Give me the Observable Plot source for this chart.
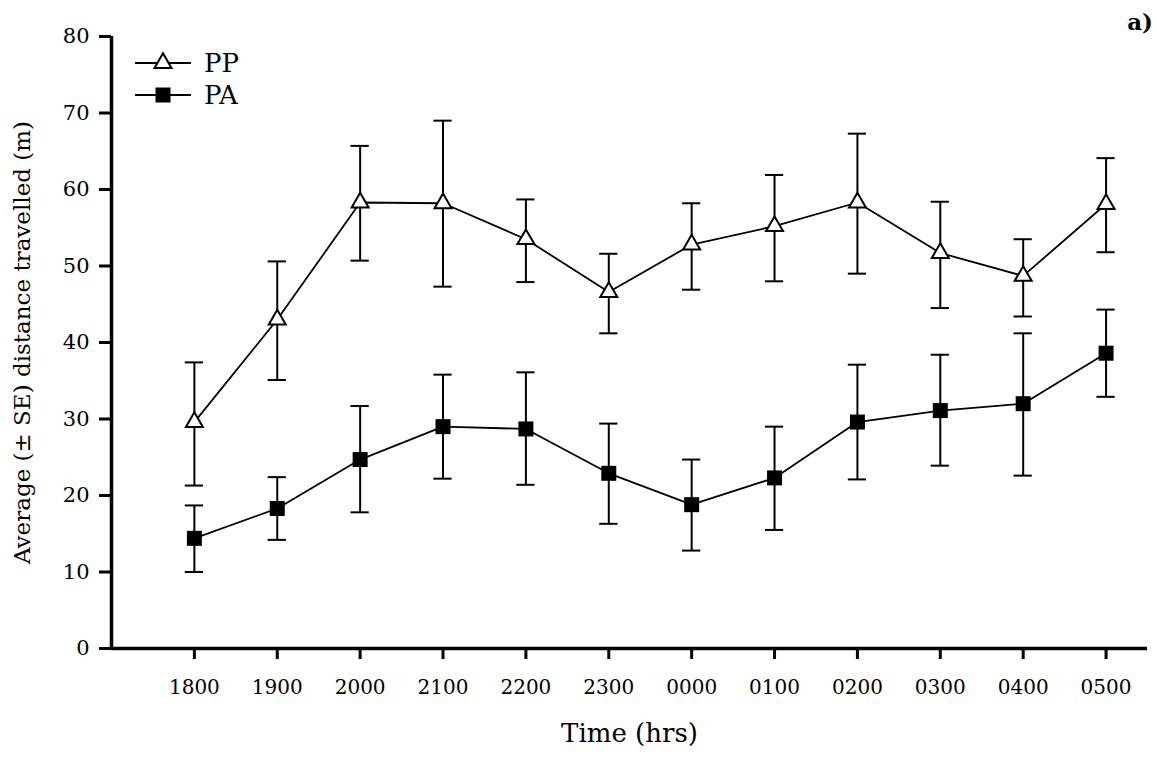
<!DOCTYPE html>
<html><head><meta charset="utf-8">
<script src="https://cdn.jsdelivr.net/npm/d3@7"></script>
<script src="https://cdn.jsdelivr.net/npm/@observablehq/plot@0.6"></script>
<style>
body{margin:0;background:#fff;}
#wrap{position:relative;width:1157px;height:758px;font-family:"DejaVu Serif",serif;}
#wrap svg{display:block;}
#legend{position:absolute;left:0;top:0;}
#tag{position:absolute;right:4px;top:8px;font-weight:bold;font-size:23px;font-family:"DejaVu Serif",serif;}
</style></head><body><div id="wrap"></div>
<script>
// ---- data ----
const hours = ["1800","1900","2000","2100","2200","2300","0000","0100","0200","0300","0400","0500"];
const seriesNames = ["PP","PA"];
const ppMean  = [29.6, 43.0, 58.3, 58.2, 53.5, 46.6, 52.8, 55.2, 58.3, 51.7, 48.7, 58.1];
const ppUpper = [37.4, 50.6, 65.7, 69.0, 58.7, 51.6, 58.2, 61.9, 67.3, 58.4, 53.5, 64.1];
const ppLower = [21.3, 35.1, 50.7, 47.3, 47.9, 41.2, 46.9, 48.0, 49.0, 44.5, 43.4, 51.8];
const paMean  = [14.4, 18.3, 24.7, 29.0, 28.7, 22.9, 18.8, 22.3, 29.6, 31.1, 32.0, 38.6];
const paUpper = [18.7, 22.4, 31.7, 35.8, 36.1, 29.4, 24.7, 29.0, 37.1, 38.4, 41.2, 44.3];
const paLower = [10.0, 14.2, 17.8, 22.2, 21.4, 16.3, 12.8, 15.5, 22.1, 23.9, 22.6, 32.9];
const yTicks = [0,10,20,30,40,50,60,70,80];

// ---- table ----
const rows = [];
hours.forEach((h, k) => {
  rows.push({series: "PP", i: k + 1, hour: h, mean: ppMean[k], hi: ppUpper[k], lo: ppLower[k]});
  rows.push({series: "PA", i: k + 1, hour: h, mean: paMean[k], hi: paUpper[k], lo: paLower[k]});
});
const pp = rows.filter(d => d.series === "PP");
const pa = rows.filter(d => d.series === "PA");

const capHalf = 0.11;
const rTri = 6.3, rSq = 8.46;

const chart = Plot.plot({
  width: 1157,
  height: 758,
  marginLeft: 111,
  marginRight: 10,
  marginTop: 36,
  marginBottom: 110,
  style: {fontFamily: "DejaVu Serif, serif", fontSize: "20px", color: "#000", background: "#fff"},
  x: {domain: [0, 12.5], axis: null},
  y: {domain: [0, 80], axis: null},
  marks: [
    Plot.axisY(yTicks, {tickSize: 12, tickPadding: 10, strokeWidth: 3, label: null, fontSize: 21}),
    Plot.axisX(d3.range(1, hours.length + 1), {tickSize: 11, tickPadding: 20, strokeWidth: 3, label: null, fontSize: 20,
      tickFormat: i => hours[i - 1]}),
    Plot.ruleX([0], {strokeWidth: 3.5, stroke: "#000"}),
    Plot.ruleY([0], {strokeWidth: 3.5, stroke: "#000"}),
    Plot.line(rows, {x: "i", y: "mean", z: "series", stroke: "#000", strokeWidth: 1.8}),
    Plot.ruleX(rows, {x: "i", y1: "lo", y2: "hi", stroke: "#000", strokeWidth: 2}),
    Plot.ruleY(rows, {y: "hi", x1: d => d.i - capHalf, x2: d => d.i + capHalf, stroke: "#000", strokeWidth: 2}),
    Plot.ruleY(rows, {y: "lo", x1: d => d.i - capHalf, x2: d => d.i + capHalf, stroke: "#000", strokeWidth: 2}),
    Plot.dot(pp, {x: "i", y: "mean", symbol: "triangle", r: rTri, fill: "#fff", stroke: "#000", strokeWidth: 2}),
    Plot.dot(pa, {x: "i", y: "mean", symbol: "square", r: rSq, fill: "#000", stroke: "none"}),
    Plot.text(["Time (hrs)"], {frameAnchor: "bottom", dy: 93, fontSize: 26, fill: "#000"}),
    Plot.text(["Average (± SE) distance travelled (m)"], {frameAnchor: "left", textAnchor: "middle", dx: -89, rotate: -90, fontSize: 23, fill: "#000"})
  ]
});
const wrap = document.getElementById("wrap");
wrap.appendChild(chart);

// legend
const lg = d3.select(wrap).append("svg").attr("id", "legend").attr("width", 300).attr("height", 120);
const legendSym = {PP: {type: d3.symbolTriangle, r: rTri, fill: "#fff"}, PA: {type: d3.symbolSquare, r: rSq, fill: "#000"}};
seriesNames.forEach((s, k) => {
  const g = lg.append("g").attr("transform", `translate(0,${63 + k * 32})`);
  g.append("line").attr("x1", 135).attr("x2", 191).attr("stroke", "#000").attr("stroke-width", 1.8);
  const sym = legendSym[s];
  g.append("path").attr("transform", "translate(163,0)")
    .attr("d", d3.symbol(sym.type, Math.PI * sym.r * sym.r)())
    .attr("fill", sym.fill).attr("stroke", s === "PP" ? "#000" : "none").attr("stroke-width", 2);
  g.append("text").attr("x", 204).attr("dy", "0.35em").attr("font-size", 26)
    .attr("font-family", "DejaVu Serif, serif").text(s);
});

const tag = document.createElement("div");
tag.id = "tag";
tag.textContent = "a)";
wrap.appendChild(tag);
</script>
</body></html>
